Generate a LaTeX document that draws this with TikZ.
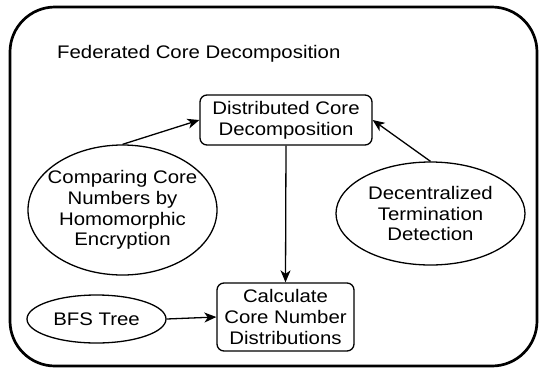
\documentclass[tikz,border=0pt]{standalone}
\usepackage{fontspec}
\setmainfont{Liberation Sans}[FakeStretch=1.12]
\usetikzlibrary{shapes.geometric,arrows.meta}
\tikzset{
  base/.style={font=\fontsize{18.2}{20.7}\selectfont, align=center},
  rbox/.style={base, draw, line width=1.3pt, rounded corners=7pt, inner sep=2pt},
  oval/.style={draw, ellipse, line width=1.3pt, inner sep=0pt},
  ovtext/.style={base, inner sep=0pt},
  conn/.style={line width=1.3pt, -{Stealth[length=12pt, width=10pt, inset=3.5pt]}},
  frame/.style={line width=2.7pt, rounded corners=45pt}
}
\begin{document}
\begin{tikzpicture}[x=1pt, y=-1pt]
\useasboundingbox (0,0) rectangle (539,368);
\draw[frame] (10,7) rectangle (537,366);
\node[base, anchor=base west, inner sep=0pt] (title) at (57,58) {Federated Core Decomposition};
\node[rbox, minimum width=172pt, minimum height=50pt] (dcd) at (286,120) {Distributed Core\\Decomposition};
\node[rbox, minimum width=137pt, minimum height=68pt] (calc) at (285.5,317) {Calculate\\Core Number\\Distributions};
\node[oval, minimum width=189pt, minimum height=130pt,
      label={[ovtext]center:Comparing Core\\Numbers by\\Homomorphic\\Encryption}] (cmp) at (122.5,210) {};
\node[oval, minimum width=189pt, minimum height=103pt,
      label={[ovtext]center:Decentralized\\Termination\\Detection}] (dtd) at (430.5,213.5) {};
\node[oval, minimum width=139pt, minimum height=48pt,
      label={[ovtext]center:BFS Tree}] (bfs) at (96.5,319) {};
\draw[conn] (cmp.north) -- (dcd.west);
\draw[conn] (dtd.north) -- (dcd.east);
\draw[conn] (dcd.south) -- (calc.north);
\draw[conn] (bfs.east) -- (calc.west);
\end{tikzpicture}
\end{document}
